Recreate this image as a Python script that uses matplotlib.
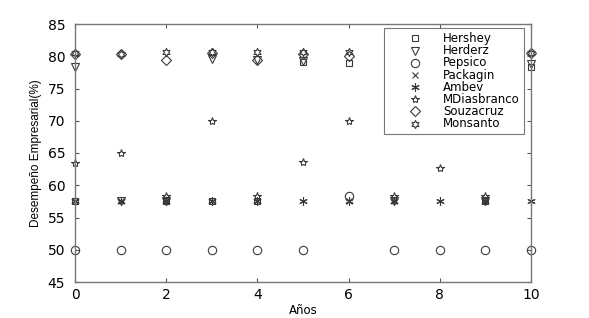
import numpy as np
import matplotlib
matplotlib.use("Agg")
import matplotlib.pyplot as plt

plt.rcParams['font.family'] = ['DejaVu Sans']

nan = np.nan
years = [0, 1, 2, 3, 4, 5, 6, 7, 8, 9, 10]
hershey = [57.5, nan, 57.5, 57.5, 57.5, 79.1, 79.0, nan, nan, 57.5, 78.4]
herderz = [78.3, 57.5, 57.5, 79.5, 79.4, 79.3, nan, 57.5, nan, 57.5, 78.8]
pepsico = [50, 50, 50, 50, 50, 50, 58.3, 50, 50, 50, 50]
packagin = [57.5, 57.5, 57.5, 57.5, 57.5, nan, 57.5, 57.5, nan, 57.5, nan]
ambev = [57.5, 57.5, 57.5, 57.5, 57.5, 57.5, 57.5, 57.5, 57.5, 57.5, 57.5]
mdiasbranco = [63.5, 65, 58.4, 70, 58.4, 63.6, 70, 58.4, 62.6, 58.4, nan]
souzacruz = [80.4, 80.4, 79.4, 80.5, 79.4, 80.4, 80.0, nan, nan, nan, 80.5]
monsanto = [80.5, 80.4, 80.6, 80.6, 80.7, 80.6, 80.7, nan, nan, nan, 80.5]

labels = ['Hershey', 'Herderz', 'Pepsico', 'Packagin', 'Ambev',
          'MDiasbranco', 'Souzacruz', 'Monsanto']
series = [hershey, herderz, pepsico, packagin, ambev, mdiasbranco, souzacruz, monsanto]
markers = ['s', 'v', 'o', 'x', (6, 2, 0), '*', 'D', (6, 1, 0)]
sizes = [5, 6, 6, 4, 6, 6, 5, 6]

fig = plt.figure(figsize=(5.89, 3.18), dpi=100)
# axes spans x 75..531 px, y 24..282 px
ax = fig.add_axes([75 / 589, 36 / 318, 456 / 589, 258 / 318])
col = '#3a3a3a'
for y, lab, m, s in zip(series, labels, markers, sizes):
    ax.plot(years, y, linestyle='none', marker=m, markersize=s,
            markerfacecolor='none', markeredgecolor=col, color=col,
            markeredgewidth=0.8, label=lab, clip_on=False)

ax.set_xlim(0, 10)
ax.set_ylim(45, 85)
ax.set_xticks([0, 2, 4, 6, 8, 10])
ax.set_yticks([45, 50, 55, 60, 65, 70, 75, 80, 85])
ax.tick_params(direction='in', top=True, right=True, length=3, width=0.8,
               colors='#555555', labelcolor='black', labelsize=10)
ax.tick_params(axis='y', pad=7)
ax.tick_params(axis='x', pad=4)
for sp in ax.spines.values():
    sp.set_color('#777777')
    sp.set_linewidth(1.0)
ax.set_xlabel('Años', fontsize=8.5, labelpad=2)
ax.set_ylabel('Desempeño Empresarial(%)', fontsize=8.5, labelpad=4,
              family='Liberation Sans')

# legend box approx x 382..524 px, y 28..128 px
leg = ax.legend(loc='upper right',
                bbox_to_anchor=((524 - 75) / 456, 1 - (28 - 24) / 258),
                fontsize=8.5, frameon=True, fancybox=False, edgecolor='#555555',
                handlelength=4.6, handletextpad=0.1, labelspacing=-0.07,
                handleheight=0.5, borderpad=0.35, borderaxespad=0.0)
leg.get_frame().set_linewidth(0.8)

fig.savefig('out.png', dpi=100)
